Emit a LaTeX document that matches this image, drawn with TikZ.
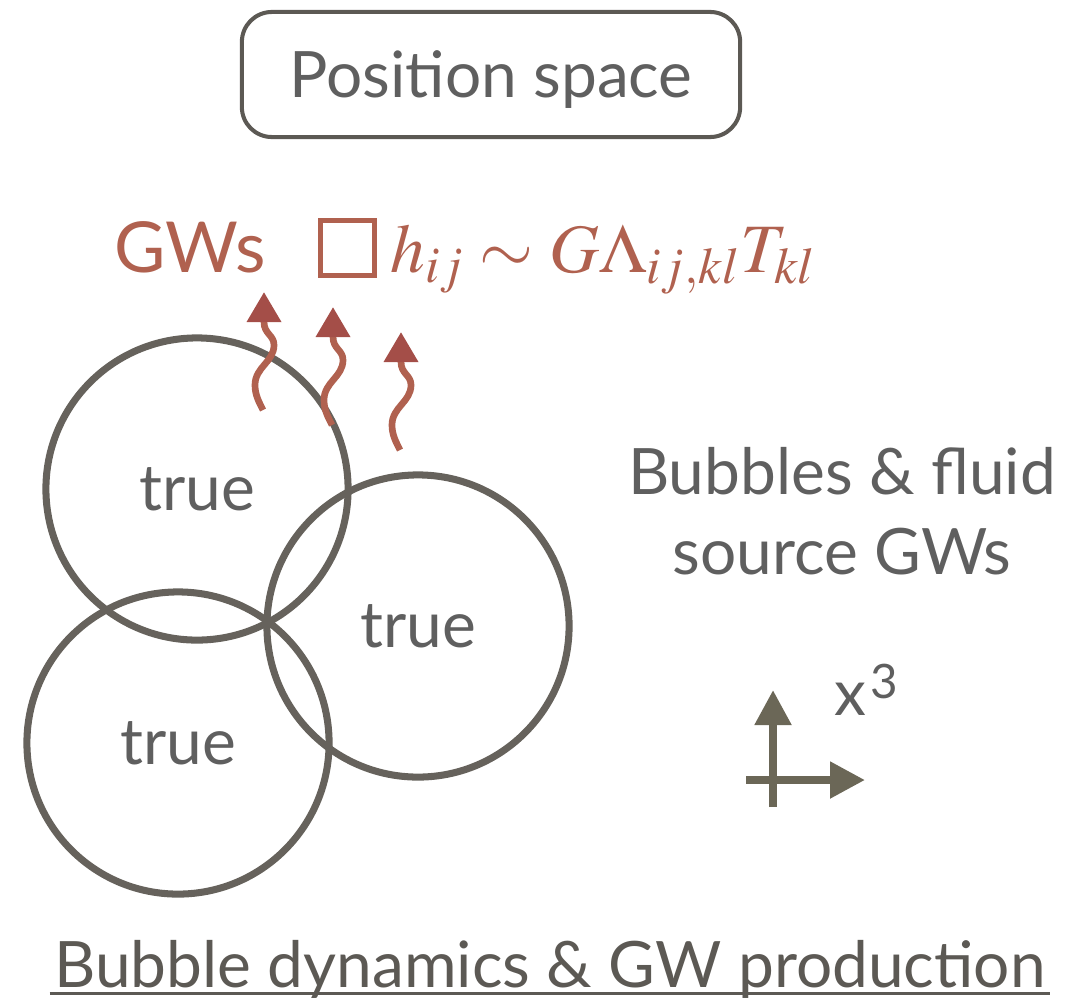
\documentclass[tikz,border=0pt]{standalone}
\usepackage{mathptmx}
\usepackage[no-math]{fontspec}
\setmainfont{Lato}
\usetikzlibrary{arrows.meta}
\definecolor{ink}{HTML}{5F5F5F}
\definecolor{rim}{HTML}{66625C}
\definecolor{frame}{HTML}{5C5954}
\definecolor{gwred}{HTML}{B0614F}
\definecolor{gwtip}{HTML}{A44E48}
\definecolor{axis}{HTML}{6B6757}
\newcommand{\slidefont}{\fontsize{18.2}{22.8}\selectfont}
\tikzset{
 every node/.append style={font=\slidefont,text=ink,inner sep=0pt},
 title/.style={draw=frame,line width=1.15pt,rounded corners=3mm,minimum width=4.98cm,minimum height=1.25cm,text depth=0pt},
 bubble/.style={circle,draw=rim,line width=2pt,minimum size=3.02cm},
 wave/.style={draw=gwred,line width=1.9pt,-{Triangle[length=3mm,width=3.3mm,color=gwtip]}},
 axisarrow/.style={draw=axis,line width=2.3pt,-{Triangle[length=3.5mm,width=3.5mm]}},
 redtext/.style={text=gwred},
}
\begin{document}
\begin{tikzpicture}[x=0.01cm,y=0.01cm]

\useasboundingbox (0,0) rectangle (1077,-1000);
\node[title] (space) at (491,-74.5) {Position space};

% wave equation
\node[redtext,anchor=base west,font=\fontsize{20}{24}\selectfont] (gws) at (114,-272) {GWs};
\node[draw=gwred,line width=1.42pt,minimum size=0.54cm] (dal) at (347.5,-248) {};
\node[redtext,anchor=base west,font=\fontsize{19.7}{24}\selectfont] (eom) at (390,-272) {$h_{ij}\sim G\Lambda_{ij,kl}T_{kl}$};

% bubbles
\node[bubble] (b1) at (197,-489) {true};
\node[bubble] (b2) at (418,-626) {true};
\node[bubble] (b3) at (178,-743) {true};

\foreach \n/\x/\y in {1/264/292,2/333/307,3/401/332}{
 \coordinate (gw\n) at (\x,-\y);
 \draw[wave,shift={(gw\n)}] (-1,-118) .. controls (-5,-110) and (-9,-103) .. (-9,-93) .. controls (-9,-75) and (10,-70) .. (10,-53) .. controls (10,-43) and (0,-42) .. (0,-30) -- (gw\n);
}

\node[align=center] (note) at (842,-511) {Bubbles \& fluid\\source GWs};

% axes
\coordinate (yfoot) at (773,-807);
\coordinate (ytip) at (773,-690);
\coordinate (xfoot) at (746,-780);
\coordinate (xtip) at (865,-780);
\draw[axisarrow] (yfoot) -- (ytip);
\draw[axisarrow] (xfoot) -- (xtip);
\node[anchor=base west] (xlab) at (834,-715) {x\kern1pt\raisebox{4.8pt}{\fontsize{13.5}{14}\selectfont 3}};

\node[anchor=base,text=frame] (caption) at (550,-987) {Bubble dynamics \& GW production};
\draw[frame,line width=0.85pt] ([xshift=-0.04cm,yshift=-0.06cm]caption.base west) -- ([xshift=0.04cm,yshift=-0.06cm]caption.base east);

\end{tikzpicture}
\end{document}
